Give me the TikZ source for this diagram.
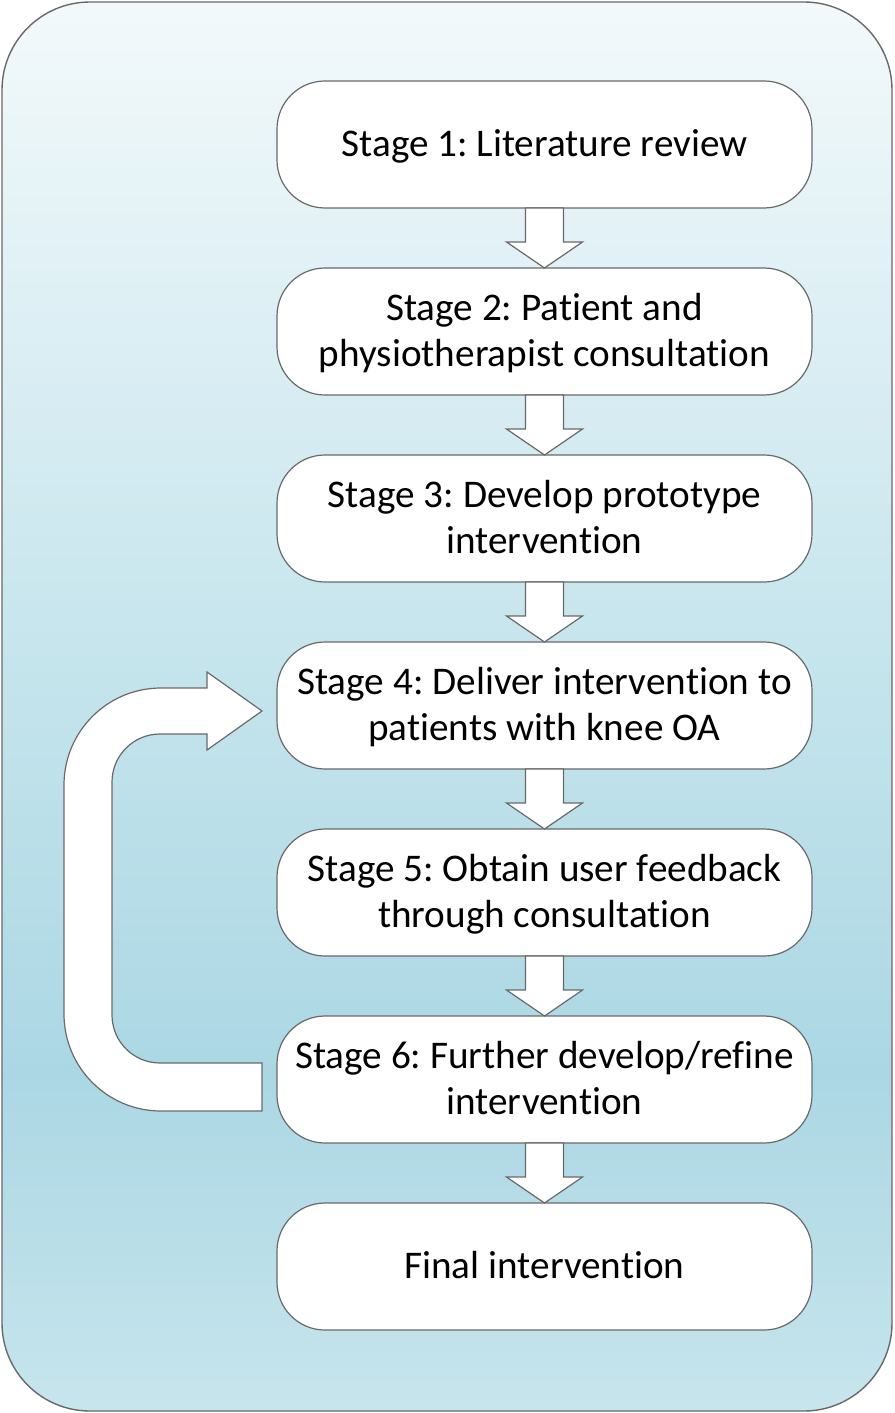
\documentclass[tikz,border=0pt]{standalone}
\usepackage{fontspec}
\setmainfont{Carlito}[Ligatures=NoCommon]
\usetikzlibrary{calc}
\definecolor{bgtop}{RGB}{243,249,251}
\definecolor{bgmid}{RGB}{198,229,237}
\definecolor{bgdark}{RGB}{171,215,228}
\definecolor{bgbot}{RGB}{199,229,237}
\definecolor{edge}{RGB}{105,105,105}
\pgfdeclareverticalshading{bgshade}{100bp}{color(0bp)=(bgbot); color(25bp)=(bgbot); color(37bp)=(bgdark); color(52bp)=(bgmid); color(75bp)=(bgtop); color(100bp)=(bgtop)}
\tikzset{
  stage/.style={draw=edge, line width=0.6pt, fill=white, rounded corners=24pt, minimum width=267.5pt, minimum height=63.5pt, outer sep=0pt, align=center, text depth=1.5pt, font=\fontsize{19.6}{23}\selectfont\frenchspacing},
  blockarrow/.style={draw=edge, line width=0.6pt, fill=white, line join=miter}
}
\begin{document}
\begin{tikzpicture}[x=0.5pt,y=-0.5pt]
\useasboundingbox (0,0) rectangle (894,1413);
\draw[edge, line width=0.7pt, shading=bgshade, rounded corners=44pt] (2,2) rectangle (892,1411);
\node[stage] (s1) at (544.5,144.5) {Stage 1: Literature review};
\node[stage] (s2) at (544.5,331.5) {Stage 2: Patient and\\physiotherapist consultation};
\node[stage] (s3) at (544.5,518.5) {Stage 3: Develop prototype\\intervention};
\node[stage] (s4) at (544.5,705.5) {Stage 4: Deliver intervention to\\patients with knee OA};
\node[stage] (s5) at (544.5,892.5) {Stage 5: Obtain user feedback\\through consultation};
\node[stage] (s6) at (544.5,1079.5) {Stage 6: Further develop/refine\\intervention};
\node[stage] (s7) at (544.5,1266.5) {Final intervention};
\foreach \a/\b in {s1/s2,s2/s3,s3/s4,s4/s5,s5/s6,s6/s7}
  \draw[blockarrow] ($(\a.south)+(-19,0)$) -- ($(\a.south)+(19,0)$) -- ($(\b.north)+(19,-26)$) -- ($(\b.north)+(38,-26)$) -- (\b.north) -- ($(\b.north)+(-38,-26)$) -- ($(\b.north)+(-19,-26)$) -- cycle;
\draw[blockarrow] ($(s6.west)+(-15,31.5)$) -- ++(-101,0) arc[start angle=90,end angle=180,radius=97] -- ($(s4.west)+(-213,79.5)$) arc[start angle=180,end angle=270,radius=97] -- ($(s4.west)+(-70,-17.5)$) -- ++(0,-16) -- ($(s4.west)+(-15,5.5)$) -- ($(s4.west)+(-70,44.5)$) -- ++(0,-16) -- ++(-47,0) arc[start angle=270,end angle=180,radius=48] -- ($(s6.west)+(-165,-64.5)$) arc[start angle=180,end angle=90,radius=48] -- ($(s6.west)+(-15,-16.5)$) -- cycle;
\end{tikzpicture}
\end{document}
